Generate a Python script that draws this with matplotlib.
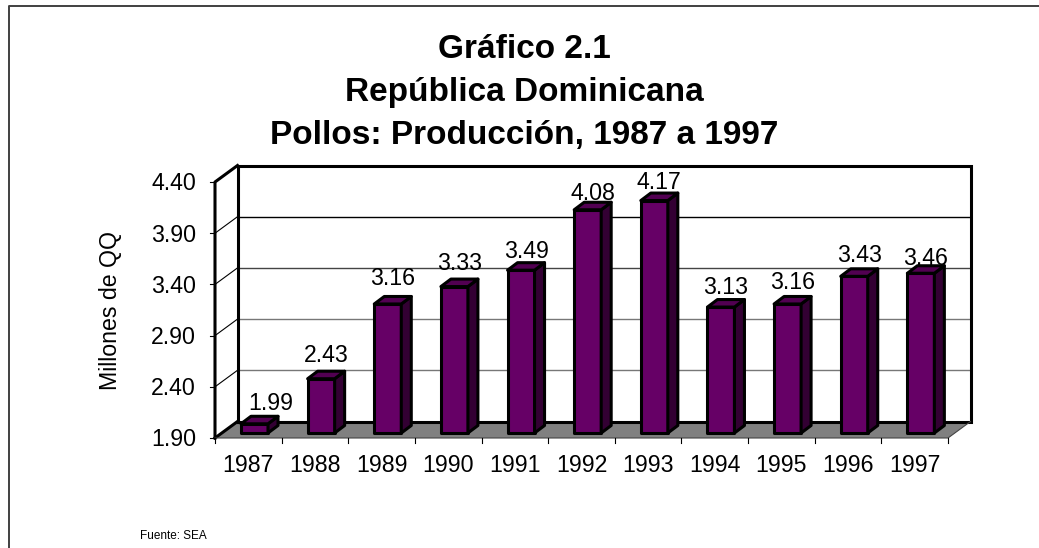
import matplotlib
matplotlib.use("Agg")
import matplotlib.pyplot as plt
from matplotlib.patches import Polygon
import numpy as np

plt.rcParams['font.family'] = ['Liberation Sans', 'DejaVu Sans']

# Datos
years = [1987, 1988, 1989, 1990, 1991, 1992, 1993, 1994, 1995, 1996, 1997]
values = [1.99, 2.43, 3.16, 3.33, 3.49, 4.08, 4.17, 3.13, 3.16, 3.43, 3.46]
y_ticks = [1.90, 2.40, 2.90, 3.40, 3.90, 4.40]
grid_colors = ['#777777', '#777777', '#444444', 'black']
# ajuste vertical de cada etiqueta, en pixeles hacia arriba
label_nudge = [2, 5, 7, 5, 0, -2, 0, 1, 3, 3, -4]

W, H = 1039, 548
fig = plt.figure(figsize=(W/100, H/100), dpi=100)

# Ejes en el plano frontal (pixeles de la imagen)
left, right, top, bottom = 215, 948, 182, 438
ax = fig.add_axes([left/W, 1 - bottom/H, (right-left)/W, (bottom-top)/H])
ax.set_xlim(-0.5, 10.5)
ax.set_ylim(y_ticks[0], y_ticks[-1])
ax.axis('off')

# Profundidad del efecto 3D, en unidades de datos
px_x = 11 / (right - left)
px_y = (y_ticks[-1] - y_ticks[0]) / (bottom - top)
dx = 22.5 * px_x
dy = 16.5 * px_y
y0, y1 = y_ticks[0], y_ticks[-1]
x0, x1 = -0.5, 10.5
fs = 16.7

# Suelo gris
ax.add_patch(Polygon([(x0, y0), (x1, y0), (x1+dx, y0+dy), (x0+dx, y0+dy)],
                     fc='#808080', ec='none', clip_on=False, zorder=1))

# Rejilla
for t, c in zip(y_ticks[1:-1], grid_colors):
    ax.plot([x0+dx, x1+dx], [t+dy, t+dy], color=c, lw=1, clip_on=False, zorder=1,
            solid_capstyle='butt')
    ax.plot([x0, x0+dx], [t, t+dy], color='black', lw=0.8, clip_on=False, zorder=1)

# Pared del fondo
ax.plot([x0+dx, x0+dx, x1+dx, x1+dx, x0+dx], [y0+dy, y1+dy, y1+dy, y0+dy, y0+dy],
        color='black', lw=2.2, clip_on=False, zorder=2, solid_joinstyle='miter')
# Pared izquierda
ax.plot([x0, x0, x0+dx], [y0, y1, y1+dy], color='black', lw=2.2, clip_on=False, zorder=2)
ax.plot([x0, x0+dx], [y0, y0+dy], color='black', lw=2.2, clip_on=False, zorder=2)
# Borde frontal del suelo
ax.plot([x0, x1, x1+dx], [y0, y0, y0+dy], color='#444444', lw=0.8, clip_on=False, zorder=2)

# Marcas de los ejes
for t in y_ticks:
    ax.plot([x0 - 5*px_x, x0], [t, t], color='black', lw=0.8, clip_on=False, zorder=2)
for i in range(len(years)+1):
    ax.plot([x0+i, x0+i], [y0, y0 - 5*px_y], color='black', lw=0.8, clip_on=False, zorder=2)

# Barras
front_w = 27 * px_x
side_x = 10 * px_x
side_y = 7.5 * px_y
lift = 5 * px_y
base_y = y0 + lift
for i, (yr, v) in enumerate(zip(years, values)):
    xl = i - 0.5 + 26 * px_x
    xr = xl + front_w
    vt = v + lift
    ax.add_patch(Polygon([(xl, base_y), (xr, base_y), (xr, vt), (xl, vt)], fc='#660066', ec='black',
                         lw=2.2, clip_on=False, zorder=3, joinstyle='round'))
    ax.add_patch(Polygon([(xr, base_y), (xr+side_x, base_y+side_y), (xr+side_x, vt+side_y), (xr, vt)],
                         fc='#330033', ec='black', lw=2.2, clip_on=False, zorder=3, joinstyle='round'))
    ax.add_patch(Polygon([(xl, vt), (xr, vt), (xr+side_x, vt+side_y), (xl+side_x, vt+side_y)],
                         fc='#520052', ec='black', lw=2.2, clip_on=False, zorder=3, joinstyle='round'))
    # la etiqueta de 1987 esta corrida a la derecha en el original
    shift = 8 if yr == 1987 else 0
    ax.annotate(f"{v:.2f}", (xl + (front_w+side_x)/2, vt + side_y),
                xytext=(shift, -0.5 + label_nudge[i]*0.72),
                textcoords='offset points', ha='center', va='bottom', fontsize=fs, zorder=4,
                annotation_clip=False)
    ax.text(i, y0 - 16*px_y, str(yr), ha='center', va='top', fontsize=fs, clip_on=False)

for t in y_ticks:
    ax.text(x0 - 19*px_x, t - 2*px_y, f"{t:.2f}", ha='right', va='center', fontsize=fs, clip_on=False)

# Textos de figura
fig.text(110/W, 1 - 311/H, "Millones de QQ", rotation=90, ha='center', va='center', fontsize=fs)
title = ["Gráfico 2.1", "República Dominicana", "Pollos: Producción, 1987 a 1997"]
for line, yp in zip(title, [49, 92, 135]):
    fig.text(524/W, 1 - yp/H, line, ha='center', va='center', fontsize=24, fontweight='bold')
fig.text(140/W, 1 - 536/H, "Fuente: SEA", ha='left', va='center', fontsize=8.5)

# Marco exterior (arriba e izquierda)
fig.add_artist(plt.Line2D([8.5/W, 8.5/W, 1], [0, 1-6/H, 1-6/H], color='#404040', lw=1.4))

fig.savefig("out.png", dpi=100)
plt.close()
